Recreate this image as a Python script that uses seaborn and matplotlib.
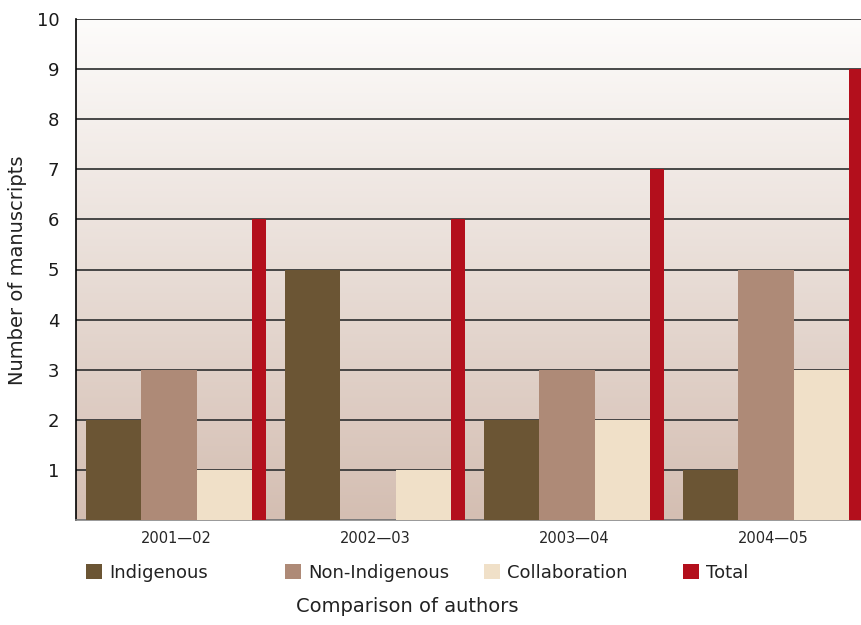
import numpy as np
import pandas as pd
import seaborn as sns
import matplotlib.pyplot as plt
from matplotlib.patches import Patch

# dados
anos = ['2001\u201402', '2002\u201403', '2003\u201404', '2004\u201405']
series = ['Indigenous', 'Non-Indigenous', 'Collaboration', 'Total']
indigenous = [2, 5, 2, 1]
non_indigenous = [3, 0, 3, 5]
collaboration = [1, 1, 2, 3]
total = [6, 6, 7, 9]
cores = ['#6b5534', '#ae8a77', '#f0e0c8', '#b30f1c']

df = pd.DataFrame({
    'ano': anos * 4,
    'serie': np.repeat(series, len(anos)),
    'valor': indigenous + non_indigenous + collaboration + total,
})

sns.set_style('white')
plt.rcParams['font.family'] = ['DejaVu Sans']

fig = plt.figure(figsize=(8.61, 6.25), dpi=100)
ax = fig.add_axes([76 / 861, 1 - 520 / 625, 785 / 861, 501 / 625])

# fundo em degradê
grad = np.linspace(0, 1, 256)[:, None]
topo = np.array([253, 252, 251]) / 255
base = np.array([212, 190, 178]) / 255
img = topo + (base - topo) * grad[..., None]
img = np.repeat(img, 2, axis=1)
ax.imshow(img, extent=[0, 1, 0, 1], transform=ax.transAxes, aspect='auto', zorder=-10)

sns.barplot(data=df, x='ano', y='valor', hue='serie', palette=cores,
            saturation=1, width=0.9, ax=ax, legend=False, zorder=3)

# ajusta posição e largura das barras (Total é estreita)
inicio = [-0.452, -0.174, 0.104, 0.382]
largura = [0.278, 0.278, 0.278, 0.07]
for k, cont in enumerate(ax.containers):
    for i, barra in enumerate(cont):
        barra.set_x(i + inicio[k])
        barra.set_width(largura[k])
        barra.set_linewidth(0)

ax.set_xlim(-0.503, 3.442)
ax.set_ylim(0, 10)
ax.set_yticks(range(0, 11))
ax.set_yticklabels([''] + [str(v) for v in range(1, 11)], fontsize=13, color='#1a1a1a')
ax.tick_params(axis='y', direction='out', length=6, width=1, color='black', pad=6)
ax.tick_params(axis='x', length=0, labelsize=10.5, pad=8)
ax.yaxis.grid(True, color='#3a3a3a', linewidth=1.3, zorder=1)
ax.xaxis.grid(False)
ax.set_axisbelow(True)

for lado in ['top', 'right']:
    ax.spines[lado].set_visible(False)
ax.spines['left'].set_color('black')
ax.spines['left'].set_linewidth(1.2)
ax.spines['bottom'].set_color('#888888')
ax.spines['bottom'].set_linewidth(1.2)

ax.set_xlabel('')
ax.set_ylabel('')
fig.text(18 / 861, 1 - 270 / 625, 'Number of manuscripts', rotation=90,
         ha='center', va='center', fontsize=14, color='#222222')
fig.text(407 / 861, 1 - 607 / 625, 'Comparison of authors',
         ha='center', va='center', fontsize=14, color='#222222')

# legenda: uma entrada por grupo, alinhada ao início de cada grupo
for k, nome in enumerate(series):
    x0 = (86 + 199 * k) / 861
    fig.legend(handles=[Patch(facecolor=cores[k], edgecolor='none')], labels=[nome],
               loc='center left', bbox_to_anchor=(x0, 1 - 573 / 625), frameon=False,
               fontsize=13, handlelength=0.9, handleheight=0.9, handletextpad=0.4,
               borderpad=0, borderaxespad=0, labelcolor='#222222')

plt.savefig('out.png', dpi=100)
